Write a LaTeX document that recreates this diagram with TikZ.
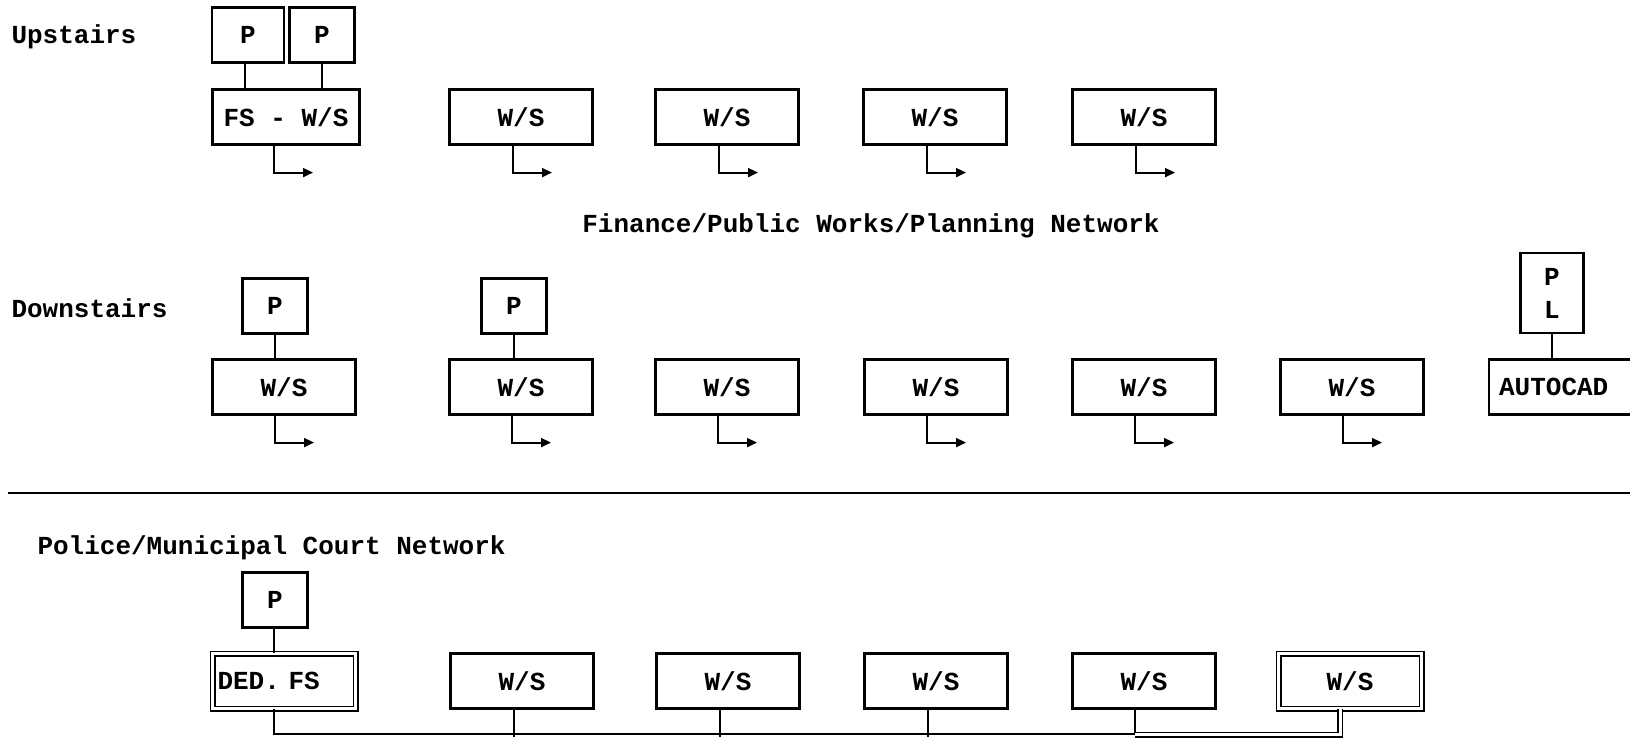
\documentclass[tikz,border=0pt]{standalone}
\usepackage{fontspec}
\setmonofont{Liberation Mono}
\usetikzlibrary{arrows.meta}

\begin{document}
\begin{tikzpicture}[x=1pt, y=-1pt, >={Triangle[length=10pt, width=9pt]},
    txt/.style={font=\ttfamily\bfseries\fontsize{26}{33}\selectfont},
    ws/.style={draw, line width=2.2pt, txt, minimum width=143pt, minimum height=55pt, inner sep=0pt},
    prn/.style={draw, line width=2.2pt, txt, minimum width=65pt, minimum height=55pt, inner sep=0pt},
    dbl/.style={double, double distance=3pt, line width=1.5pt},
    link/.style={line width=2.2pt},
    feed/.style={line width=2pt, ->}]
    \useasboundingbox (0,0) rectangle (1630,741);

    % upstairs
    \node[txt, anchor=west] (upst) at (8,37) {Upstairs};
    \node[prn, minimum width=72pt] (up1) at (248,35) {P};
    \node[prn] (up2) at (322,35) {P};
    \node[ws, minimum width=147pt] (fs) at (286,117) {FS - W/S};
    \node[ws] (uw1) at (521,117) {W/S};
    \node[ws] (uw2) at (727,117) {W/S};
    \node[ws] (uw3) at (935,117) {W/S};
    \node[ws] (uw4) at (1144,117) {W/S};
    \draw[link] ([xshift=-3pt]up1.south) -- ([xshift=-3pt]up1.south |- fs.north);
    \draw[link] (up2.south) -- (up2.south |- fs.north);
    \draw[feed] ([xshift=-12pt]fs.south) |- ++(39,27);
    \foreach \n in {uw1,uw2,uw3,uw4}
        \draw[feed] ([xshift=-8pt]\n.south) |- ++(39,27);

    \node[txt] (fin) at (871,226) {Finance/Public Works/Planning Network};

    % downstairs
    \node[txt, anchor=west] (dnst) at (8,308) {Downstairs};
    \node[prn] (dp1) at (275,306) {P};
    \node[prn] (dp2) at (514,306) {P};
    \node[prn, minimum width=63pt, minimum height=80pt, align=center] (pl) at (1552,293) {P\\L};
    \node[ws] (dw1) at (284,387) {W/S};
    \node[ws] (dw2) at (521,387) {W/S};
    \node[ws] (dw3) at (727,387) {W/S};
    \node[ws] (dw4) at (936,387) {W/S};
    \node[ws] (dw5) at (1144,387) {W/S};
    \node[ws] (dw6) at (1352,387) {W/S};
    \node[ws, anchor=west, text width=140pt, inner xsep=10pt, align=left] (acad) at (1488,387) {AUTOCAD};
    \draw[link] (dp1.south) -- (dp1.south |- dw1.north);
    \draw[link] (dp2.south) -- (dp2.south |- dw2.north);
    \draw[link] (pl.south) -- (pl.south |- acad.north);
    \foreach \n in {dw1,dw2,dw3,dw4,dw5,dw6}
        \draw[feed] ([xshift=-9pt]\n.south) |- ++(39,27);

    \draw[line width=1.8pt] (8,493) coordinate (rl) -- (1630,493) coordinate (rr);

    % police / court
    \node[txt, anchor=west] (pol) at (34,548) {Police/Municipal Court Network};
    \node[prn] (pp) at (275,600) {P};
    \node[ws, dbl, text width=133pt, inner xsep=5pt, align=left] (ded) at (284,681) {DED. FS};
    \node[ws] (pw2) at (522,681) {W/S};
    \node[ws] (pw3) at (728,681) {W/S};
    \node[ws] (pw4) at (936,681) {W/S};
    \node[ws] (pw5) at (1144,681) {W/S};
    \node[ws, dbl] (pw6) at (1350,681) {W/S};
    \draw[link] ([xshift=-1pt]pp.south) -- ([xshift=-1pt]pp.south |- ded.north);
    \draw[link] ([xshift=-10pt]ded.south) -- ++(0,25) -| ([xshift=-9pt]pw5.south);
    \foreach \n in {pw2,pw3,pw4}
        \draw[link] ([xshift=-8pt]\n.south) -- ++(0,27);
    \draw[dbl] ([xshift=-9pt]pw5.south) ++(0,25) -| ([xshift=-10pt]pw6.south);
\end{tikzpicture}
\end{document}
